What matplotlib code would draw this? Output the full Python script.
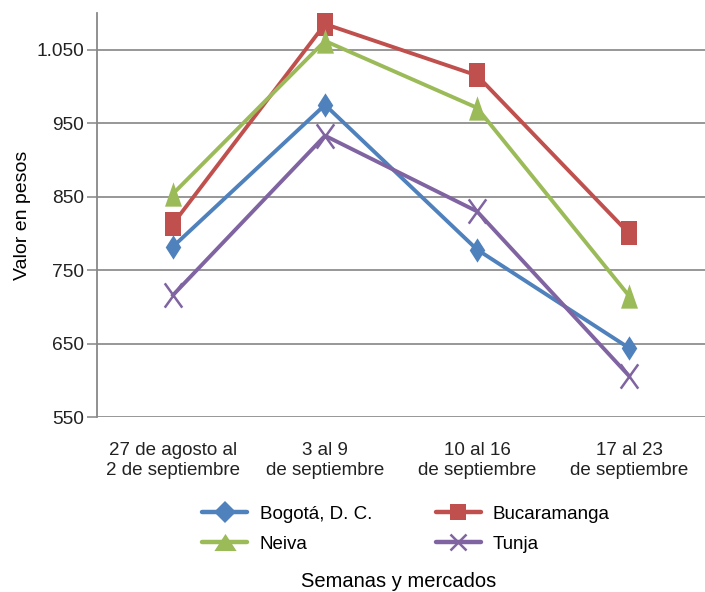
import matplotlib.pyplot as plt
import matplotlib as mpl
from matplotlib.ticker import FuncFormatter
from matplotlib.path import Path
from matplotlib.lines import Line2D

mpl.rcParams['font.family'] = ['Liberation Sans', 'DejaVu Sans']
mpl.rcParams['font.size'] = 13.5

semanas = ['27 de agosto al\n2 de septiembre', '3 al 9\nde septiembre',
           '10 al 16\nde septiembre', '17 al 23\nde septiembre']
bogota = [782, 975, 778, 644]
bucaramanga = [813, 1085, 1015, 800]
neiva = [854, 1062, 971, 715]
tunja = [716, 933, 830, 606]

# markers in the reference look stretched vertically
tall_diamond = Path([(0, 1), (0.64, 0), (0, -1), (-0.64, 0), (0, 1)], closed=True)
tall_square = Path([(-0.68, -1), (0.68, -1), (0.68, 1), (-0.68, 1), (-0.68, -1)], closed=True)
tall_triangle = Path([(0, 1), (0.7, -1), (-0.7, -1), (0, 1)], closed=True)
tall_x = Path([(-0.72, -1), (0.72, 1), (-0.72, 1), (0.72, -1)],
              [Path.MOVETO, Path.LINETO, Path.MOVETO, Path.LINETO])
# legend markers are not stretched
wide_triangle = Path([(0, 0.77), (1, -0.77), (-1, -0.77), (0, 0.77)], closed=True)

series = [
    ('Bogotá, D. C.', bogota, '#4F81BD', tall_diamond, 'D', 11.5),
    ('Bucaramanga', bucaramanga, '#C0504D', tall_square, 's', 11),
    ('Neiva', neiva, '#9BBB59', tall_triangle, wide_triangle, 16),
    ('Tunja', tunja, '#8064A2', tall_x, 'x', 12),
]

fig = plt.figure(figsize=(7.05, 5.92), dpi=100)
ax = fig.add_axes([0.1376, 0.2956, 0.8624, 0.6824])

x = list(range(len(semanas)))
handles = {}
for name, vals, color, mk, leg_mk, leg_ms in series:
    is_x = mk is tall_x
    ax.plot(x, vals, color=color, linewidth=2.8, marker=mk, markersize=17.5,
            markeredgewidth=1.8 if is_x else 0, markerfacecolor=color,
            markeredgecolor=color)
    handles[name] = Line2D([], [], color=color, linewidth=3.2, solid_capstyle='round',
                           marker=leg_mk, markersize=leg_ms, markerfacecolor=color,
                           markeredgecolor=color, markeredgewidth=1.8 if is_x else 0)

ax.set_xlim(-0.5, 3.5)
ax.set_ylim(550, 1100)
ax.set_yticks([550, 650, 750, 850, 950, 1050])
ax.yaxis.set_major_formatter(FuncFormatter(lambda v, p: f'{int(v):,}'.replace(',', '.')))
ax.set_xticks(x)
ax.set_xticklabels(semanas, linespacing=1.22)
ax.tick_params(axis='x', length=0, pad=18, labelsize=13.5, colors='#222222')
ax.tick_params(axis='y', length=7.5, width=1.2, color='#8f8f8f', labelsize=13.8,
               colors='#222222', pad=2)
ax.yaxis.grid(True, color='#8f8f8f', linewidth=1.3)
ax.set_axisbelow(True)
for s in ['top', 'right', 'bottom']:
    ax.spines[s].set_visible(False)
ax.spines['left'].set_color('#888888')
ax.spines['left'].set_linewidth(1.3)

ax.set_ylabel('Valor en pesos', fontsize=14, labelpad=4)

order = ['Bogotá, D. C.', 'Neiva', 'Bucaramanga', 'Tunja']
fig.legend([handles[n] for n in order], order, ncol=2,
           loc='center', bbox_to_anchor=(0.576, 0.106), frameon=False,
           fontsize=13.5, handlelength=2.4, handletextpad=0.65,
           columnspacing=3.4, labelspacing=0.7)

fig.text(0.566, 0.018, 'Semanas y mercados', ha='center', va='center', fontsize=14.5)

plt.savefig('out.png', dpi=100)
